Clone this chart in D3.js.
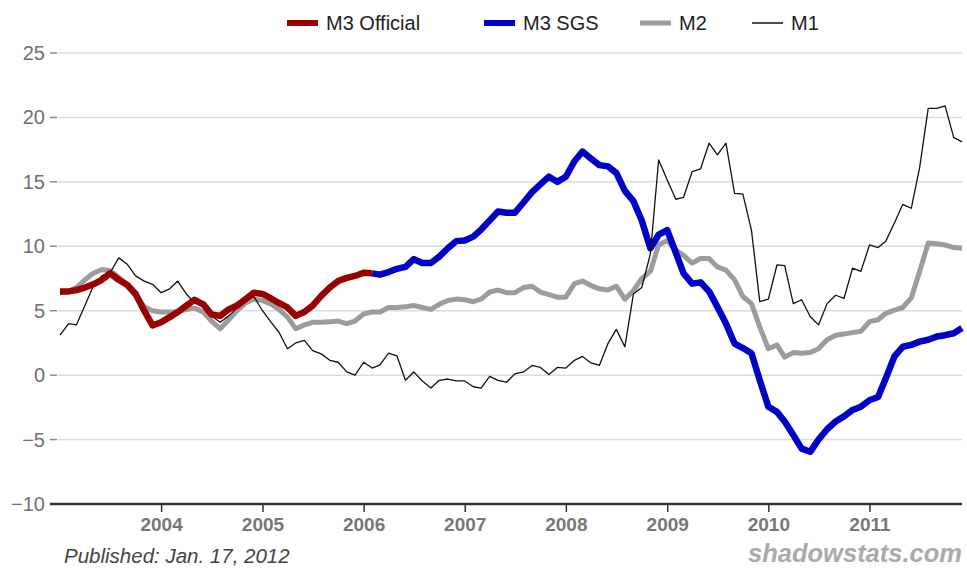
<!DOCTYPE html>
<html><head><meta charset="utf-8">
<script src="https://cdn.jsdelivr.net/npm/d3@7"></script>
<style>
html,body{margin:0;padding:0;background:#fff;}
svg{display:block;font-family:"Liberation Sans",Arial,sans-serif;}
</style></head>
<body><svg id="chart" width="967" height="568"></svg>
<script>
// ---- Data (monthly, Jan 2003 – Dec 2011, year-over-year % change) ----
const startMonth = "2003-01";
const endMonth = "2011-12";
const seriesNames = ["M3 Official", "M3 SGS", "M2", "M1"];
const yearTicks = [2004, 2005, 2006, 2007, 2008, 2009, 2010, 2011];
const yTicks = [-10, -5, 0, 5, 10, 15, 20, 25];

// M3 Official: Jan 2003 – Feb 2006
const m3Official = [6.5,6.5,6.6,6.8,7.05,7.4,7.9,7.4,7.0,6.3,5.0,3.85,
  4.1,4.5,4.9,5.4,5.85,5.5,4.7,4.6,5.1,5.4,5.9,6.4,
  6.3,5.95,5.6,5.25,4.6,4.9,5.4,6.15,6.8,7.3,7.55,7.7,
  7.95,7.9];
// M3 SGS continuation: Feb 2006 – Dec 2011
const m3SGS = [7.9,7.8,8.0,8.25,8.4,9.0,8.7,8.7,9.2,9.85,10.4,
  10.45,10.75,11.3,12.0,12.7,12.6,12.6,13.4,14.2,14.8,15.4,15.0,
  15.4,16.6,17.35,16.8,16.3,16.2,15.7,14.3,13.5,12.0,9.85,10.9,
  11.25,9.5,7.9,7.1,7.2,6.5,5.3,4.0,2.45,2.1,1.7,-0.4,
  -2.45,-2.85,-3.6,-4.65,-5.7,-5.95,-5.0,-4.2,-3.6,-3.2,-2.7,-2.45,
  -1.95,-1.7,-0.25,1.45,2.2,2.35,2.6,2.75,3.0,3.1,3.25,3.65];
const m2 = [6.4,6.5,6.8,7.4,7.9,8.2,8.1,7.6,7.0,6.2,5.3,5.0,
  4.9,4.9,4.9,5.1,5.2,4.9,4.2,3.6,4.3,5.0,5.6,5.9,
  5.8,5.5,5.1,4.5,3.6,3.9,4.1,4.1,4.15,4.2,4.0,4.2,
  4.75,4.9,4.9,5.25,5.25,5.3,5.4,5.25,5.1,5.5,5.8,5.9,
  5.85,5.7,5.9,6.45,6.6,6.4,6.4,6.8,6.9,6.45,6.25,6.05,
  6.05,7.1,7.3,6.95,6.7,6.6,6.9,5.9,6.55,7.5,8.05,10.1,
  10.45,9.7,9.3,8.7,9.05,9.05,8.4,8.15,7.4,6.1,5.55,3.75,
  2.05,2.35,1.4,1.75,1.7,1.75,2.05,2.75,3.1,3.2,3.3,3.4,
  4.15,4.3,4.8,5.05,5.25,6.0,8.05,10.25,10.2,10.1,9.9,9.85];
const m1 = [3.1,4.0,3.9,5.4,6.9,7.7,7.95,9.1,8.6,7.7,7.3,7.05,
  6.4,6.7,7.3,6.3,5.6,5.3,4.6,4.1,4.6,5.2,5.8,6.1,
  5.0,4.1,3.35,2.05,2.5,2.7,1.9,1.65,1.15,1.0,0.25,0.0,
  1.0,0.55,0.8,1.7,1.5,-0.4,0.25,-0.45,-1.0,-0.4,-0.3,-0.45,
  -0.45,-0.9,-1.0,-0.1,-0.4,-0.55,0.1,0.25,0.75,0.6,0.05,0.6,
  0.55,1.15,1.45,0.95,0.75,2.45,3.55,2.2,6.3,6.8,9.4,16.7,
  15.15,13.65,13.8,15.8,16.0,18.0,17.1,18.0,14.1,14.05,11.25,5.7,
  5.9,8.55,8.5,5.55,5.85,4.55,3.9,5.55,6.2,5.95,8.3,8.05,
  10.1,9.9,10.4,11.8,13.25,12.95,16.1,20.7,20.7,20.9,18.45,18.1];
const publishedText = "Published: Jan. 17, 2012";
const sourceText = "shadowstats.com";

// ---- Build ----
const parseM = d3.timeParse("%Y-%m");
const months = d3.timeMonth.range(parseM(startMonth), d3.timeMonth.offset(parseM(endMonth), 1));
const svg = d3.select("#chart");
const plotL = 60, plotR = 962, plotT = 53, plotB = 504;
const x = d3.scaleTime().domain([months[0], months[months.length - 1]]).range([plotL, plotR]);
const y = d3.scaleLinear().domain([-10, 25]).range([plotB, plotT]);

// gridlines + y ticks/labels
const gY = svg.append("g");
yTicks.forEach(v => {
  if (v !== -10) {
    gY.append("line").attr("x1", plotL - 2).attr("x2", plotR).attr("y1", y(v)).attr("y2", y(v))
      .attr("stroke", "#dcdcdc").attr("stroke-width", 1.5);
  }
  gY.append("line").attr("x1", 50).attr("x2", 57).attr("y1", y(v)).attr("y2", y(v))
    .attr("stroke", "#888").attr("stroke-width", 1.5);
  gY.append("text").attr("x", 45).attr("y", y(v)).attr("dy", "0.35em")
    .attr("text-anchor", "end").attr("font-size", 20).attr("fill", "#707070")
    .text(v < 0 ? "\u2212" + Math.abs(v) : v);
});

// x axis
const xAxis = d3.axisBottom(x)
  .tickValues(yearTicks.map(yv => new Date(yv, 0, 1)))
  .tickFormat(d3.timeFormat("%Y"))
  .tickSize(8).tickPadding(6).tickSizeOuter(0);
const gX = svg.append("g").attr("transform", `translate(0,${plotB})`).call(xAxis);
gX.select(".domain").attr("d", `M50,0H${plotR}`).attr("stroke", "#333").attr("stroke-width", 2.5);
gX.selectAll(".tick line").attr("stroke", "#333").attr("stroke-width", 1.5);
gX.selectAll(".tick text").attr("font-size", 19).attr("font-weight", "bold")
  .attr("fill", "#777").attr("font-family", "'Liberation Sans', Arial, sans-serif");

// lines
const line = d3.line().x(d => x(d[0])).y(d => y(d[1]));
const pairs = (vals, offset) => vals.map((v, i) => [months[i + offset], v]);
const series = [
  {name: "M2", data: pairs(m2, 0), color: "#9c9c9c", width: 5},
  {name: "M3 SGS", data: pairs(m3SGS, m3Official.length - 1), color: "#0000c8", width: 6.5},
  {name: "M1", data: pairs(m1, 0), color: "#111", width: 1.3},
  {name: "M3 Official", data: pairs(m3Official, 0), color: "#990000", width: 6.5}
];
series.forEach(s => {
  svg.append("path").attr("d", line(s.data)).attr("fill", "none")
    .attr("stroke", s.color).attr("stroke-width", s.width)
    .attr("stroke-linejoin", "round").attr("stroke-linecap", "butt");
});

// legend
const legend = [
  {name: seriesNames[0], color: "#990000", width: 6, x: 287},
  {name: seriesNames[1], color: "#0000c8", width: 6, x: 484},
  {name: seriesNames[2], color: "#9c9c9c", width: 5, x: 640},
  {name: seriesNames[3], color: "#111", width: 1.5, x: 752}
];
legend.forEach(l => {
  svg.append("line").attr("x1", l.x).attr("x2", l.x + 31).attr("y1", 23).attr("y2", 23)
    .attr("stroke", l.color).attr("stroke-width", l.width);
  svg.append("text").attr("x", l.x + 39).attr("y", 23).attr("dy", "0.35em")
    .attr("font-size", 20).attr("fill", "#222").text(l.name);
});

// footer texts
svg.append("text").attr("x", 64).attr("y", 563).attr("font-size", 20.5)
  .attr("font-style", "italic").attr("fill", "#444").text(publishedText);
svg.append("text").attr("x", 962).attr("y", 562).attr("text-anchor", "end")
  .attr("font-size", 25.5).attr("font-style", "italic").attr("font-weight", "bold")
  .attr("fill", "#aaa").text(sourceText);
</script></body></html>
